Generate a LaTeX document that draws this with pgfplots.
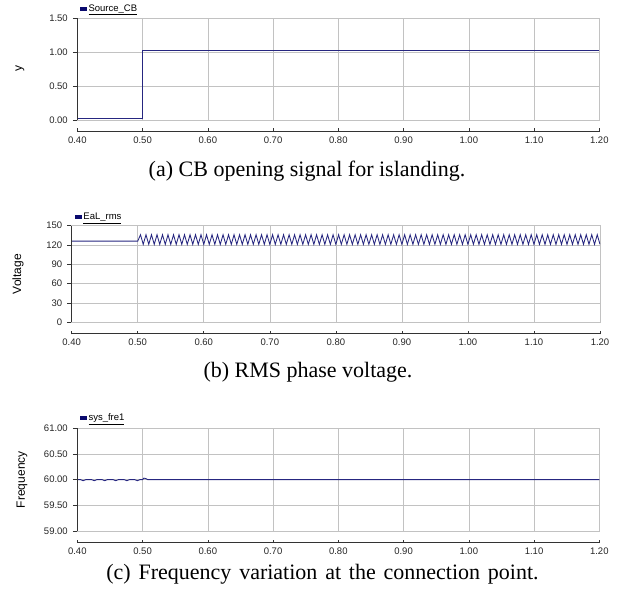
\documentclass[border=0pt]{standalone}
\usepackage{fontspec}
\setmainfont{Liberation Sans}
\newfontfamily\capfont{Liberation Serif}
\usepackage{pgfplots}
\pgfplotsset{compat=1.18}

\definecolor{navyline}{RGB}{38,38,128}
\definecolor{navybox}{RGB}{10,10,110}

\pgfplotsset{
  panel/.style={
    scale only axis,
    xmin=0.4, xmax=1.2,
    xtick={0.4,0.5,0.6,0.7,0.8,0.9,1.0,1.1,1.2},
    grid=major,
    major grid style={draw=black!24, line width=0.6pt},
    axis line style={draw=black!24, line width=0.6pt},
    tick label style={font=\fontsize{9.5}{10}\selectfont, black!85},
    /pgf/number format/assume math mode=true,
    xticklabel style={/pgf/number format/fixed, /pgf/number format/fixed zerofill,
      /pgf/number format/precision=2, yshift=-13pt},
    yticklabel style={xshift=-1.5pt},
    xtick pos=bottom, ytick pos=left,
    xtick align=inside, ytick align=outside,
    major tick length=4.5pt,
    xtick style={draw=none},
    ytick style={black!80, line width=0.6pt},
    ylabel style={font=\fontsize{12}{14}\selectfont, anchor=center},
    legend style={draw=none, fill=none, inner sep=0pt,
      font=\fontsize{9.5}{10}\selectfont, anchor=west},
    legend cell align=left,
    legend image code/.code={\fill[navybox] (0pt,-1.3pt) rectangle (5.5pt,1.6pt);},
    after end axis/.code={
      \draw[black!80, line width=0.7pt] (rel axis cs:0,0) -- (rel axis cs:0,1);
      \draw[black!80, line width=0.7pt] ([yshift=-11pt]rel axis cs:0,0) -- ([yshift=-11pt]rel axis cs:1,0);
      \foreach \r in {0,0.125,0.25,0.375,0.5,0.625,0.75,0.875,1}
        \draw[black!80, line width=0.6pt] ([yshift=-12pt]rel axis cs:\r,0) -- ([yshift=-8.5pt]rel axis cs:\r,0);
    },
  },
}

\begin{document}
\begin{tikzpicture}[x=1pt,y=1pt]
\useasboundingbox (0,0) rectangle (617,595);

% (a) CB signal
\begin{axis}[panel,
  at={(77.3pt,475pt)}, anchor=south west,
  width=522pt, height=102pt,
  ymin=0, ymax=1.5, ytick={0,0.5,1,1.5},
  yticklabel style={/pgf/number format/fixed, /pgf/number format/fixed zerofill,
    /pgf/number format/precision=2},
  ylabel={y},
  ylabel style={at={(axis description cs:-0.11,0.5)}},
  legend style={at={(0.005,1.09)}},
]
\addplot[navyline, line width=0.9pt] coordinates {
  (0.4,0.02) (0.5,0.02) (0.5,1.02) (1.2,1.02)
};
\addlegendentry{\underline{Source\_CB}}
\end{axis}

% (b) RMS voltage
\begin{axis}[panel,
  at={(71.7pt,272.7pt)}, anchor=south west,
  width=528.3pt, height=96.6pt,
  ymin=0, ymax=150, ytick={0,30,60,90,120,150},
  ylabel={Voltage},
  ylabel style={at={(axis description cs:-0.1016,0.5)}},
  legend style={at={(0.006,1.09)}},
]
\addplot[navyline, line width=0.85pt] coordinates {
  (0.4000,126)
  (0.5000,126)(0.5042,136)(0.5083,121)(0.5125,136)(0.5167,121)(0.5208,136)
  (0.5250,121)(0.5292,136)(0.5333,121)(0.5375,136)(0.5417,121)(0.5458,136)
  (0.5500,121)(0.5542,136)(0.5583,121)(0.5625,136)(0.5667,121)(0.5708,136)
  (0.5750,121)(0.5792,136)(0.5833,121)(0.5875,136)(0.5917,121)(0.5958,136)
  (0.6000,121)(0.6042,136)(0.6083,121)(0.6125,136)(0.6167,121)(0.6208,136)
  (0.6250,121)(0.6292,136)(0.6333,121)(0.6375,136)(0.6417,121)(0.6458,136)
  (0.6500,121)(0.6542,136)(0.6583,121)(0.6625,136)(0.6667,121)(0.6708,136)
  (0.6750,121)(0.6792,136)(0.6833,121)(0.6875,136)(0.6917,121)(0.6958,136)
  (0.7000,121)(0.7042,136)(0.7083,121)(0.7125,136)(0.7167,121)(0.7208,136)
  (0.7250,121)(0.7292,136)(0.7333,121)(0.7375,136)(0.7417,121)(0.7458,136)
  (0.7500,121)(0.7542,136)(0.7583,121)(0.7625,136)(0.7667,121)(0.7708,136)
  (0.7750,121)(0.7792,136)(0.7833,121)(0.7875,136)(0.7917,121)(0.7958,136)
  (0.8000,121)(0.8042,136)(0.8083,121)(0.8125,136)(0.8167,121)(0.8208,136)
  (0.8250,121)(0.8292,136)(0.8333,121)(0.8375,136)(0.8417,121)(0.8458,136)
  (0.8500,121)(0.8542,136)(0.8583,121)(0.8625,136)(0.8667,121)(0.8708,136)
  (0.8750,121)(0.8792,136)(0.8833,121)(0.8875,136)(0.8917,121)(0.8958,136)
  (0.9000,121)(0.9042,136)(0.9083,121)(0.9125,136)(0.9167,121)(0.9208,136)
  (0.9250,121)(0.9292,136)(0.9333,121)(0.9375,136)(0.9417,121)(0.9458,136)
  (0.9500,121)(0.9542,136)(0.9583,121)(0.9625,136)(0.9667,121)(0.9708,136)
  (0.9750,121)(0.9792,136)(0.9833,121)(0.9875,136)(0.9917,121)(0.9958,136)
  (1.0000,121)(1.0042,136)(1.0083,121)(1.0125,136)(1.0167,121)(1.0208,136)
  (1.0250,121)(1.0292,136)(1.0333,121)(1.0375,136)(1.0417,121)(1.0458,136)
  (1.0500,121)(1.0542,136)(1.0583,121)(1.0625,136)(1.0667,121)(1.0708,136)
  (1.0750,121)(1.0792,136)(1.0833,121)(1.0875,136)(1.0917,121)(1.0958,136)
  (1.1000,121)(1.1042,136)(1.1083,121)(1.1125,136)(1.1167,121)(1.1208,136)
  (1.1250,121)(1.1292,136)(1.1333,121)(1.1375,136)(1.1417,121)(1.1458,136)
  (1.1500,121)(1.1542,136)(1.1583,121)(1.1625,136)(1.1667,121)(1.1708,136)
  (1.1750,121)(1.1792,136)(1.1833,121)(1.1875,136)(1.1917,121)(1.1958,136)
  (1.2000,121)
};
\addlegendentry{\underline{EaL\_rms}}
\end{axis}

% (c) frequency
\begin{axis}[panel,
  at={(77.3pt,64pt)}, anchor=south west,
  width=522pt, height=102.7pt,
  ymin=59, ymax=61, ytick={59,59.5,60,60.5,61},
  yticklabel style={/pgf/number format/fixed, /pgf/number format/fixed zerofill,
    /pgf/number format/precision=2},
  ylabel={Frequency},
  ylabel style={at={(axis description cs:-0.106,0.5)}},
  legend style={at={(0.005,1.10)}},
]
\addplot[navyline, line width=0.9pt] coordinates {
  (0.400,60.00)(0.405,60.00)(0.409,59.98)(0.413,60.00)
  (0.422,60.00)(0.426,59.98)(0.430,60.00)
  (0.438,60.00)(0.442,59.98)(0.446,60.00)
  (0.455,60.00)(0.459,59.98)(0.463,60.00)
  (0.472,60.00)(0.476,59.98)(0.480,60.00)
  (0.488,60.00)(0.492,59.98)(0.496,60.00)
  (0.500,60.00)(0.502,60.03)(0.505,60.02)(0.508,60.00)
  (1.200,60.00)
};
\addlegendentry{\underline{sys\_fre1}}
\end{axis}

\node[font=\capfont\fontsize{22}{24}\selectfont, anchor=base] at (307,418.3) {(a) CB opening signal for islanding.};
\node[font=\capfont\fontsize{22}{24}\selectfont, anchor=base] at (308,217.3) {(b) RMS phase voltage.};
\node[font=\capfont\fontsize{22}{24}\selectfont, anchor=base] at (322.5,15.7) {\spaceskip=7.8pt plus 1pt\relax (c) Frequency variation at the connection point.};
\end{tikzpicture}
\end{document}
